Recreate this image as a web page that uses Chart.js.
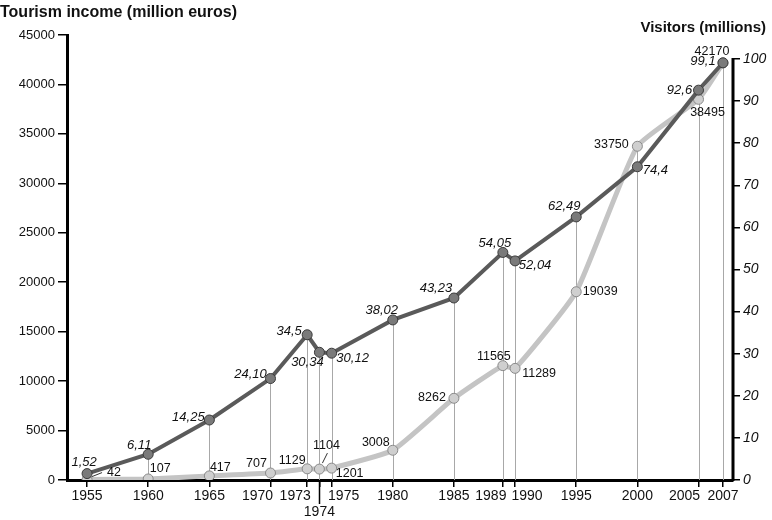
<!DOCTYPE html>
<html>
<head>
<meta charset="utf-8">
<script src="https://cdn.jsdelivr.net/npm/chart.js@4/dist/chart.umd.min.js"></script>
<style>
  html, body { margin: 0; padding: 0; background: #fff; }
  canvas { display: block; }
</style>
</head>
<body>
<canvas id="chart" width="772" height="520"></canvas>
<script>
// Data
const years = [1955, 1960, 1965, 1970, 1973, 1974, 1975, 1980, 1985, 1989, 1990, 1995, 2000, 2005, 2007];
const visitors = [1.52, 6.11, 14.25, 24.10, 34.5, 30.34, 30.12, 38.02, 43.23, 54.05, 52.04, 62.49, 74.4, 92.6, 99.1];
const visitorLabels = ['1,52', '6,11', '14,25', '24,10', '34,5', '30,34', '30,12', '38,02', '43,23', '54,05', '52,04', '62,49', '74,4', '92,6', '99,1'];
const income = [42, 107, 417, 707, 1129, 1104, 1201, 3008, 8262, 11565, 11289, 19039, 33750, 38495, 42170];
const incomeTicks = [0, 5000, 10000, 15000, 20000, 25000, 30000, 35000, 40000, 45000];
const visitorTicks = [0, 10, 20, 30, 40, 50, 60, 70, 80, 90, 100];

// label offsets (dx, dy) in pixels, styling only
const darkOffsets = [[-3,-11],[-9,-9],[-21,-3],[-20,-4],[-18,-3],[-12,10],[21,5],[-11,-10],[-18,-10],[-8,-9],[20,4],[-12,-11],[18,4],[-19,0],[-20,-1]];
const lightOffsets = [[27,-7],[12,-10],[11,-8],[-14,-9],[-15,-8],[7,-24],[18,5],[-17,-8],[-22,-1],[-9,-9],[24,5],[24,0],[-26,-2],[9,13],[-11,-11]];
// horizontal shift of crowded year labels
const yearShift = [0, 0, 0, -13, -12, 0, 12, 0, 0, -12, 12, 0, 0, -14, 0];

const dropLines = {
  id: 'dropLines',
  beforeDatasetsDraw(chart) {
    const { ctx, scales } = chart;
    const x = scales.x, y = scales.y, y1 = scales.y1;
    ctx.save();
    ctx.strokeStyle = '#a8a8a8';
    ctx.lineWidth = 1;
    years.forEach((yr, i) => {
      const px = Math.round(x.getPixelForValue(yr)) + 0.5;
      const top = Math.min(y.getPixelForValue(income[i]), y1.getPixelForValue(visitors[i]));
      ctx.beginPath();
      ctx.moveTo(px, top);
      ctx.lineTo(px, y.getPixelForValue(0));
      ctx.stroke();
    });
    ctx.restore();
  },
  afterDraw(chart) {
    const { ctx, scales, chartArea } = chart;
    const x = scales.x, y1 = scales.y1;
    ctx.save();
    // right axis line
    ctx.strokeStyle = '#000';
    ctx.lineWidth = 3;
    ctx.beginPath();
    ctx.moveTo(chartArea.right, y1.getPixelForValue(100) - 1);
    ctx.lineTo(chartArea.right, chartArea.bottom + 1);
    ctx.stroke();
    // longer tick for 1974
    const p74 = Math.round(x.getPixelForValue(1974)) + 0.5;
    ctx.lineWidth = 1.5;
    ctx.beginPath();
    ctx.moveTo(p74, chartArea.bottom);
    ctx.lineTo(p74, chartArea.bottom + 24);
    ctx.stroke();

    // year labels
    ctx.fillStyle = '#111';
    ctx.font = '14px "Liberation Sans", Arial, sans-serif';
    ctx.textAlign = 'center';
    ctx.textBaseline = 'middle';
    years.forEach((yr, i) => {
      const px = x.getPixelForValue(yr) + yearShift[i];
      ctx.fillText(String(yr), px, yr === 1974 ? chartArea.bottom + 32 : chartArea.bottom + 16);
    });

    // titles
    ctx.font = 'bold 16px "Liberation Sans", Arial, sans-serif';
    ctx.textAlign = 'left';
    ctx.fillText('Tourism income (million euros)', 0, 13);
    ctx.font = 'bold 15px "Liberation Sans", Arial, sans-serif';
    ctx.textAlign = 'right';
    ctx.fillText('Visitors (millions)', 766, 28);

    // point labels
    ctx.textAlign = 'center';
    const dark = chart.getDatasetMeta(0).data;
    const light = chart.getDatasetMeta(1).data;
    ctx.font = 'italic 13px "Liberation Sans", Arial, sans-serif';
    dark.forEach((pt, i) => {
      ctx.fillText(visitorLabels[i], pt.x + darkOffsets[i][0], pt.y + darkOffsets[i][1]);
    });
    ctx.font = '12.5px "Liberation Sans", Arial, sans-serif';
    light.forEach((pt, i) => {
      ctx.fillText(String(income[i]), pt.x + lightOffsets[i][0], pt.y + lightOffsets[i][1]);
    });
    // small leader lines for crowded labels
    ctx.strokeStyle = '#333';
    ctx.lineWidth = 1;
    ctx.beginPath();
    ctx.moveTo(light[0].x + 5, light[0].y - 3);
    ctx.lineTo(light[0].x + 15, light[0].y - 7);
    ctx.moveTo(light[5].x + 3, light[5].y - 6);
    ctx.lineTo(light[5].x + 8, light[5].y - 16);
    ctx.stroke();
    ctx.restore();
  }
};

new Chart(document.getElementById('chart').getContext('2d'), {
  type: 'line',
  data: {
    labels: years,
    datasets: [{
      label: 'Visitors (millions)',
      data: years.map((yr, i) => ({ x: yr, y: visitors[i] })),
      yAxisID: 'y1',
      borderColor: '#5a5a5a',
      borderWidth: 4,
      pointRadius: 5,
      pointBackgroundColor: '#7a7a7a',
      pointBorderColor: '#3a3a3a',
      pointBorderWidth: 1,
      tension: 0,
      order: 0
    }, {
      label: 'Tourism income (million euros)',
      data: years.map((yr, i) => ({ x: yr, y: income[i] })),
      yAxisID: 'y',
      borderColor: '#c4c4c4',
      borderWidth: 5,
      pointRadius: 5,
      pointBackgroundColor: '#cfcfcf',
      pointBorderColor: '#8a8a8a',
      pointBorderWidth: 1,
      tension: 0.15,
      order: 1
    }]
  },
  options: {
    responsive: false,
    animation: false,
    layout: { padding: { top: 35, left: 0, right: 0, bottom: 0 } },
    plugins: {
      legend: { display: false },
      tooltip: { enabled: false }
    },
    scales: {
      x: {
        type: 'linear',
        min: 1953.36,
        max: 2007.82,
        afterBuildTicks(scale) { scale.ticks = years.map(v => ({ value: v })); },
        afterFit(scale) { scale.height = 40; },
        border: { display: true, color: '#000', width: 3 },
        grid: { drawOnChartArea: false, color: '#000', lineWidth: 1.5, tickLength: 7 },
        ticks: { display: false, autoSkip: false, maxRotation: 0 }
      },
      y: {
        position: 'left',
        min: 0,
        max: 45000,
        afterBuildTicks(scale) { scale.ticks = incomeTicks.map(v => ({ value: v })); },
        afterFit(scale) { scale.width = 67; },
        border: { display: true, color: '#000', width: 3 },
        grid: { drawOnChartArea: false, color: '#000', lineWidth: 1.5, tickLength: 9 },
        ticks: {
          padding: 3,
          color: '#111',
          font: { family: '"Liberation Sans", Arial, sans-serif', size: 13 },
          callback: v => String(v)
        }
      },
      y1: {
        position: 'right',
        min: 0,
        max: 105.7,
        afterBuildTicks(scale) { scale.ticks = visitorTicks.map(v => ({ value: v })); },
        afterFit(scale) { scale.width = 39; },
        border: { display: false },
        grid: { drawOnChartArea: false, color: '#000', lineWidth: 1.5, tickLength: 7 },
        ticks: {
          padding: 3,
          color: '#111',
          font: { family: '"Liberation Sans", Arial, sans-serif', size: 14, style: 'italic' },
          callback: v => String(v)
        }
      }
    }
  },
  plugins: [dropLines]
});
</script>
</body>
</html>
